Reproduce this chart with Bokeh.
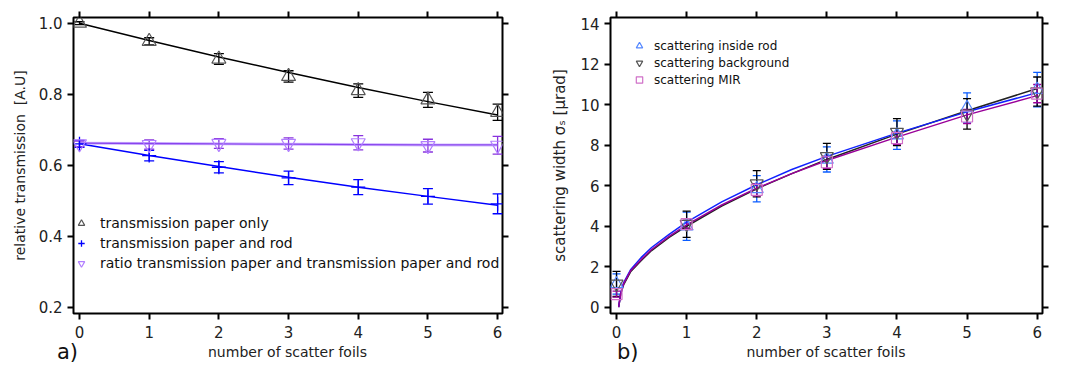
from bokeh.plotting import figure
from bokeh.models import (ColumnDataSource, Whisker, TeeHead, LinearAxis, Range1d,
                          Legend, LegendItem, Div, FixedTicker, PrintfTickFormatter,
                          CustomJSTickFormatter)
from bokeh.layouts import row, column
from bokeh.embed import file_html
from bokeh.resources import INLINE

FONT = "DejaVu Sans"

# ---------------- panel a) data ----------------
foils = [0, 1, 2, 3, 4, 5, 6]
paper_only = [1.000, 0.949, 0.899, 0.850, 0.810, 0.784, 0.749]
paper_only_err = [0.004, 0.010, 0.015, 0.016, 0.019, 0.021, 0.023]
paper_rod = [0.660, 0.627, 0.594, 0.564, 0.538, 0.512, 0.491]
paper_rod_err = [0.010, 0.015, 0.016, 0.019, 0.021, 0.022, 0.028]
ratio = [0.660, 0.658, 0.661, 0.661, 0.663, 0.655, 0.656]
ratio_err = [0.008, 0.013, 0.014, 0.016, 0.020, 0.018, 0.025]
fit_paper_only = [1.000, 0.951, 0.905, 0.861, 0.819, 0.779, 0.741]
fit_paper_rod = [0.660, 0.627, 0.596, 0.566, 0.538, 0.512, 0.487]
fit_ratio = [0.662, 0.661, 0.660, 0.659, 0.658, 0.657, 0.657]
yticks_a = [0.2, 0.4, 0.6, 0.8, 1.0]

# ---------------- panel b) data ----------------
rod_sigma = [1.15, 4.00, 5.85, 7.30, 8.50, 9.85, 10.75]
rod_sigma_err = [0.50, 0.70, 0.65, 0.62, 0.70, 0.74, 0.85]
bg_sigma = [1.15, 4.10, 6.10, 7.45, 8.65, 9.55, 10.65]
bg_sigma_err = [0.62, 0.65, 0.65, 0.64, 0.67, 0.75, 0.72]
mir_sigma = [0.65, 4.10, 5.80, 7.16, 8.35, 9.42, 10.55]
mir_sigma_err = [0.15, 0.20, 0.30, 0.30, 0.30, 0.35, 0.45]
fit_x = [0.03, 0.06, 0.1, 0.2, 0.35, 0.5, 0.75, 1.0, 1.5, 2.0, 2.5, 3.0, 4.0, 5.0, 6.0]
fit_rod = [0.0, 0.70, 1.20, 1.85, 2.45, 2.95, 3.60, 4.20, 5.20, 6.05, 6.80, 7.45, 8.60, 9.65, 10.60]
fit_bg = [0.0, 0.65, 1.10, 1.75, 2.30, 2.80, 3.45, 4.00, 5.00, 5.85, 6.60, 7.30, 8.55, 9.70, 10.80]
fit_mir = [0.0, 0.68, 1.15, 1.80, 2.35, 2.85, 3.50, 4.07, 5.05, 5.88, 6.60, 7.25, 8.40, 9.50, 10.45]
yticks_b = [0, 2, 4, 6, 8, 10, 12, 14]

XLABEL = "number of scatter foils"


def style(p, yticks, ylabel):
    p.outline_line_color = "black"
    p.outline_line_width = 2
    p.xgrid.visible = False
    p.ygrid.visible = False
    p.background_fill_color = "white"
    p.border_fill_color = "white"
    bx = p.below[0]
    ly = p.left[0]
    bx.ticker = FixedTicker(ticks=foils)
    ly.ticker = FixedTicker(ticks=yticks)
    ly.axis_label = ylabel
    for ax in [bx, ly]:
        ax.axis_line_color = None
        ax.major_tick_line_width = 2
        ax.major_tick_line_color = "black"
        ax.major_tick_out = 6
        ax.major_tick_in = 0
        ax.minor_tick_line_color = None
        ax.major_label_text_font = FONT
        ax.major_label_text_font_size = "15px"
        ax.major_label_text_color = "#222222"
        ax.axis_label_text_font = FONT
        ax.axis_label_text_font_size = "14px"
        ax.axis_label_text_font_style = "normal"
        ax.axis_label_text_color = "#222222"
    bx.major_label_standoff = 6
    ly.major_label_standoff = 5
    ly.axis_label_standoff = 8
    blank = CustomJSTickFormatter(code="return ''")
    top = LinearAxis(ticker=FixedTicker(ticks=foils), axis_line_color=None,
                     major_tick_line_width=2, major_tick_out=6, major_tick_in=0,
                     minor_tick_line_color=None, formatter=blank,
                     major_label_standoff=0)
    right = LinearAxis(ticker=FixedTicker(ticks=yticks), axis_line_color=None,
                       major_tick_line_width=2, major_tick_out=6, major_tick_in=0,
                       minor_tick_line_color=None, formatter=blank,
                       major_label_standoff=0)
    p.add_layout(top, "above")
    p.add_layout(right, "right")


def errbars(p, x, y, err, color, head=10, width=1.3):
    src = ColumnDataSource(dict(x=x, lo=[a - b for a, b in zip(y, err)],
                                hi=[a + b for a, b in zip(y, err)]))
    w = Whisker(source=src, base="x", lower="lo", upper="hi",
                line_color=color, line_width=width,
                lower_head=TeeHead(size=head, line_color=color, line_width=width),
                upper_head=TeeHead(size=head, line_color=color, line_width=width))
    p.add_layout(w)


def footer(tag, tag_left, center_x):
    html = (
        '<div style="position:relative;width:536px;height:25px;'
        'font-family:\'DejaVu Sans\';color:#222222;">'
        '<span style="position:absolute;left:%dpx;top:-5px;font-size:21px;'
        'line-height:25px;color:#111111;">%s</span>'
        '<span style="position:absolute;left:0px;width:%dpx;text-align:center;'
        'top:-1px;font-size:14px;line-height:16px;">%s</span></div>'
        % (tag_left, tag, int(2 * center_x), XLABEL))
    return Div(text=html, width=536, height=25, margin=0)


# ================= panel a =================
pa = figure(width=536, height=345, output_backend="svg", toolbar_location=None,
            x_range=Range1d(-0.086, 6.07), y_range=Range1d(0.182, 1.016),
            min_border_left=73, min_border_right=34, min_border_top=17,
            min_border_bottom=32)
style(pa, yticks_a, "relative transmission \u00a0[A.U]")
pa.left[0].formatter = PrintfTickFormatter(format="%.1f")

pa.line(foils, fit_paper_only, line_color="black", line_width=1.5)
pa.line(foils, fit_paper_rod, line_color="#0000ff", line_width=1.5)
pa.line(foils, fit_ratio, line_color="#b68cff", line_width=3, line_alpha=0.6)
pa.line(foils, fit_ratio, line_color="#8844ee", line_width=1.3)

errbars(pa, foils, paper_only, paper_only_err, "black")
errbars(pa, foils, paper_rod, paper_rod_err, "#0000ff")
errbars(pa, foils, ratio, ratio_err, "#8833dd")

r1 = pa.scatter(foils, paper_only, marker="triangle", size=14, fill_color=None,
                line_color="#555555", line_width=1.2)
r2 = pa.scatter(foils, paper_rod, marker="cross", size=14, line_color="#0000ff",
                line_width=1.3)
r3 = pa.scatter(foils, ratio, marker="inverted_triangle", size=14, fill_color=None,
                line_color="#b27fff", line_width=1.2)

leg_a = Legend(items=[LegendItem(label="transmission paper only", renderers=[r1]),
                      LegendItem(label="transmission paper and rod", renderers=[r2]),
                      LegendItem(label="ratio transmission paper and transmission paper and rod",
                                 renderers=[r3])],
               location=(0, 40), orientation="vertical", padding=0, margin=0,
               spacing=0, glyph_width=16, glyph_height=20, label_height=20,
               label_standoff=11, border_line_color=None, background_fill_alpha=0,
               label_text_font=FONT, label_text_font_size="14px",
               label_text_color="#111111")
pa.add_layout(leg_a)

# ================= panel b =================
pb = figure(width=536, height=345, output_backend="svg", toolbar_location=None,
            x_range=Range1d(-0.086, 6.076), y_range=Range1d(-0.31, 14.31),
            min_border_left=74, min_border_right=30, min_border_top=17,
            min_border_bottom=32)
style(pb, yticks_b, "scattering width \u03c3\u209b [\u03bcrad]")
pb.left[0].axis_label_text_font_size = "15px"

pb.line(fit_x, fit_bg, line_color="#222222", line_width=1.5)
pb.line(fit_x, fit_rod, line_color="#1122ff", line_width=1.5)
pb.line(fit_x, fit_mir, line_color="#990099", line_width=1.5)

errbars(pb, foils, rod_sigma, rod_sigma_err, "#0a5cff", head=8)
errbars(pb, foils, bg_sigma, bg_sigma_err, "black", head=8)
errbars(pb, foils, mir_sigma, mir_sigma_err, "#990099", head=8)

s1 = pb.scatter(foils, rod_sigma, marker="triangle", size=13, fill_color=None,
                line_color="#5588ff", line_width=1.2)
s2 = pb.scatter(foils, bg_sigma, marker="inverted_triangle", size=13, fill_color=None,
                line_color="#555555", line_width=1.2)
s3 = pb.scatter(foils, mir_sigma, marker="square", size=11, fill_color=None,
                line_color="#d070c8", line_width=1.2)

leg_b = Legend(items=[LegendItem(label="scattering inside rod", renderers=[s1]),
                      LegendItem(label="scattering background", renderers=[s2]),
                      LegendItem(label="scattering MIR", renderers=[s3])],
               location=(21, 225), orientation="vertical", padding=0, margin=0,
               spacing=0, glyph_width=16, glyph_height=17, label_height=17,
               label_standoff=7, border_line_color=None, background_fill_alpha=0,
               label_text_font=FONT, label_text_font_size="12px",
               label_text_color="#111111")
pb.add_layout(leg_b)

foot_a = footer("a)", 57, 287.5)
foot_b = footer("b)", 81, 290)

layout = column(row(pa, pb, spacing=0), row(foot_a, foot_b, spacing=0), spacing=0)
open("out.html", "w").write(file_html(layout, INLINE))
